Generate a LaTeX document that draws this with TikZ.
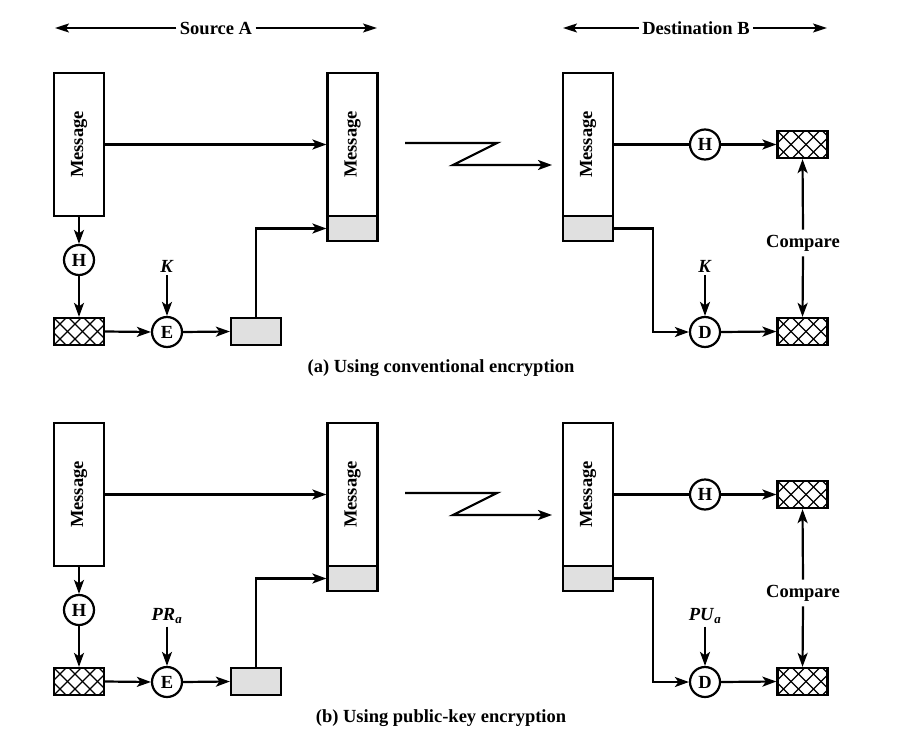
\documentclass[tikz,border=0pt]{standalone}
\usepackage{fontspec}
\setmainfont{Liberation Serif}
\usetikzlibrary{arrows.meta,calc}
\tikzset{
  base/.style={line width=2.2pt},
  arr/.style={base,-{Stealth[length=14pt,width=10pt,inset=3.5pt]}},
  hdr/.style={line width=1.7pt,-{Stealth[length=14pt,width=9pt,inset=3pt]}},
  msgbox/.style={draw,base,fill=white,minimum width=50pt,minimum height=143pt,inner sep=0pt},
  sigbox/.style={draw,base,fill=black!12,minimum width=50pt,minimum height=25pt,inner sep=0pt},
  hatchbox/.style={draw,base,fill=white,minimum width=50pt,minimum height=27pt,inner sep=0pt,
    path picture={\foreach \i in {-45,-30,...,60}{
      \draw[line width=1.3pt] ([xshift=\i pt]path picture bounding box.south west) -- ++(32pt,32pt);
      \draw[line width=1.3pt] ([xshift=\i pt]path picture bounding box.north west) -- ++(32pt,-32pt);}}},
  circ/.style={circle,draw,base,fill=white,minimum size=30pt,inner sep=0pt},
  lbl/.style={inner sep=3pt},
}
\newcommand\sigpanel[5]{%
\begin{scope}[yshift=-#2pt]
  \node[msgbox] (mA#1) at (79,144.5) {\rotatebox{90}{Message}};
  \node[msgbox] (mC#1) at (352.5,144.5) {\rotatebox{90}{Message}};
  \node[sigbox] (gC#1) at (352.5,228.5) {};
  \node[circ] (hA#1) at (79,260) {H};
  \node[hatchbox] (xA#1) at (79,331.5) {};
  \node[circ] (eA#1) at (167,332) {E};
  \node[lbl] (kA#1) at (167,266) {#3};
  \node[sigbox,minimum height=27pt] (sA#1) at (256,331.5) {};
  \node[msgbox] (mB#1) at (588,144.5) {\rotatebox{90}{Message}};
  \node[sigbox] (gB#1) at (588,228.5) {};
  \node[circ] (hB#1) at (705,144.5) {H};
  \node[hatchbox] (xB#1) at (802.5,144.5) {};
  \node[circ] (dB#1) at (705,332) {D};
  \node[lbl] (kB#1) at (705,266) {#4};
  \node[hatchbox] (xC#1) at (802.5,331.5) {};
  \node[inner sep=5pt] (cmp#1) at (803,243) {Compare};
  \node (cap#1) at (441,368) {#5};
  \coordinate (za#1) at (405,143);
  \coordinate (zb#1) at (497,143);
  \coordinate (zc#1) at (453,165);
  \coordinate (zd#1) at (552,165);
  \draw[arr] (mA#1.east) -- (mC#1.west);
  \draw[arr] (mA#1.south) -- (hA#1.north);
  \draw[arr] (hA#1.south) -- (xA#1.north);
  \draw[arr] (xA#1.east) -- (eA#1.west);
  \draw[arr] (kA#1.south) -- (eA#1.north);
  \draw[arr] (eA#1.east) -- (sA#1.west);
  \draw[arr] (sA#1.north) |- (gC#1.west);
  \draw[base] (mB#1.east) -- (hB#1.west);
  \draw[arr] (hB#1.east) -- (xB#1.west);
  \draw[arr] (gB#1.east) -- ++(39pt,0pt) |- (dB#1.west);
  \draw[arr] (kB#1.south) -- (dB#1.north);
  \draw[arr] (dB#1.east) -- (xC#1.west);
  \draw[arr] (cmp#1.north) -- (xB#1.south);
  \draw[arr] (cmp#1.south) -- (xC#1.north);
  \draw[arr] (za#1) -- (zb#1) -- (zc#1) -- (zd#1);
\end{scope}}
\begin{document}
\begin{tikzpicture}[x=1pt,y=-1pt,font=\bfseries\fontsize{18.5}{22}\selectfont]
  \useasboundingbox (0,0) rectangle (912,746);
  \node (src) at (216,28) {Source A};
  \coordinate (srcL) at (55,28);
  \coordinate (srcR) at (377,28);
  \draw[hdr] (src.west) -- (srcL);
  \draw[hdr] (src.east) -- (srcR);
  \node (dst) at (696,28) {Destination B};
  \coordinate (dstL) at (563,28);
  \coordinate (dstR) at (827,28);
  \draw[hdr] (dst.west) -- (dstL);
  \draw[hdr] (dst.east) -- (dstR);
  \sigpanel{a}{0}{\textit{K}}{\textit{K}}{(a) Using conventional encryption}
  \sigpanel{b}{350}{\textit{PR}\textsubscript{\textit{a}}}{\textit{PU}\textsubscript{\textit{a}}}{(b) Using public-key encryption}
\end{tikzpicture}
\end{document}
